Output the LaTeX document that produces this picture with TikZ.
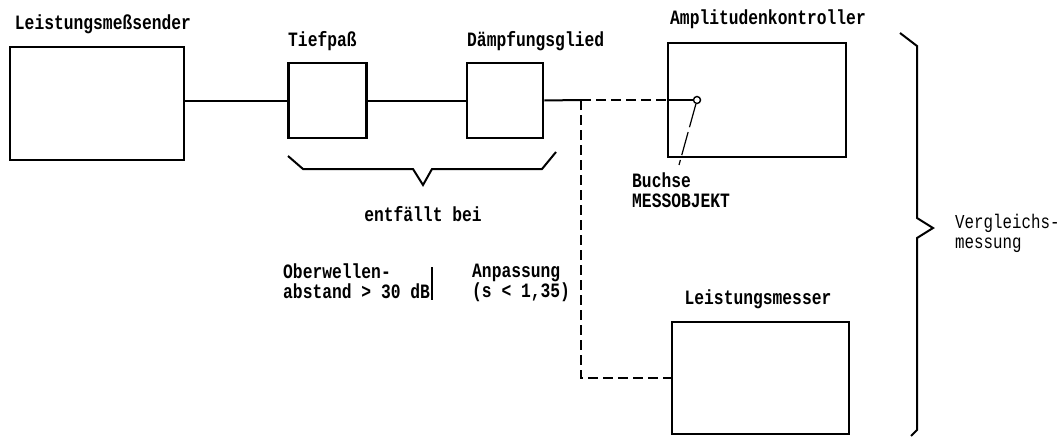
\documentclass[tikz,border=0pt]{standalone}
\usepackage{fontspec}
\usepackage{graphicx}
\newfontfamily\twfont{Liberation Mono}
\newcommand{\tw}[1]{\scalebox{1}[1.25]{#1}}
\newcommand{\twtwo}[2]{\scalebox{1}[1.25]{\begin{tabular}[t]{@{}l@{}}#1\\[-4pt]#2\end{tabular}}}
\begin{document}
\begin{tikzpicture}[x=1pt,y=-1pt,inner sep=0pt,
  lbl/.style={font=\twfont\bfseries\fontsize{16.3}{20}\selectfont},
  lbllight/.style={font=\twfont\fontsize{15.8}{20}\selectfont},
  unit/.style={draw,line width=2.6pt,rectangle},
  wire/.style={line width=2pt},
  dwire/.style={line width=1.8pt,dash pattern=on 10pt off 5pt}]

\useasboundingbox (0,0) rectangle (1064,436);

% Geraete
\node[unit,minimum width=174,minimum height=113] (lms) at (97,103.5) {};
\node[unit,minimum width=78,minimum height=75] (tp) at (327.5,100.5) {};
\node[unit,minimum width=76,minimum height=75] (dg) at (505,100.5) {};
\node[unit,minimum width=178,minimum height=114] (ak) at (757,100) {};
\node[unit,minimum width=177,minimum height=112] (lm) at (760.5,378) {};

% Beschriftungen
\node[lbl,anchor=base] (lmslbl) at (103,30) {\tw{Leistungsmeßsender}};
\node[lbl,anchor=base west] (tplbl) at (288,46) {\tw{Tiefpaß}};
\node[lbl,anchor=base west] (dglbl) at (467,46) {\tw{Dämpfungsglied}};
\node[lbl,anchor=base] (aklbl) at (768,25) {\tw{Amplitudenkontroller}};
\node[lbl,anchor=base] (lmlbl) at (758,304) {\tw{Leistungsmesser}};
\node[lbl,anchor=base] (entf) at (423,221) {\tw{entfällt bei}};
\node[lbl,anchor=base west] (bu) at (632,187) {\twtwo{Buchse}{MESSOBJEKT}};
\node[lbl,anchor=base west] (ow) at (283,278) {\twtwo{Oberwellen-}{abstand > 30 dB}};
\node[lbl,anchor=base west] (ap) at (472,277) {\twtwo{Anpassung}{(s < 1,35)}};
\node[lbllight,anchor=base west] (vg) at (955,228) {\twtwo{Vergleichs-}{messung}};

% Verbindungen
\coordinate (jn) at (581,100);
\coordinate (bl) at (679,165);
\node[draw,circle,line width=1.4pt,minimum size=7,fill=white] (bs) at (697,100) {};

\draw[wire] (lms.east |- tp.west) -- (tp.west);
\draw[wire] (tp.east) -- (dg.west);
\draw[wire] (dg.east) -- (jn);
\draw[dwire] (jn) -- (ak.west |- jn);
\draw[wire] (ak.west |- jn) -- (bs.west);
\draw[dwire] (jn) |- (lm.west);
\draw[line width=1.2pt,dash pattern=on 24pt off 5pt] (bs) -- (bl);

% Klammern
\draw[wire] (288,156) -- (303,169) -- (413,169) -- (423,185) -- (432,169) -- (542,169) -- (556,152);
\draw[wire] (900,33) -- (917,46) -- (917,218) -- (933,228) -- (917,238) -- (917,430) -- (911,436);
\draw[line width=2pt] (432,267) -- (432,300);

\end{tikzpicture}
\end{document}
